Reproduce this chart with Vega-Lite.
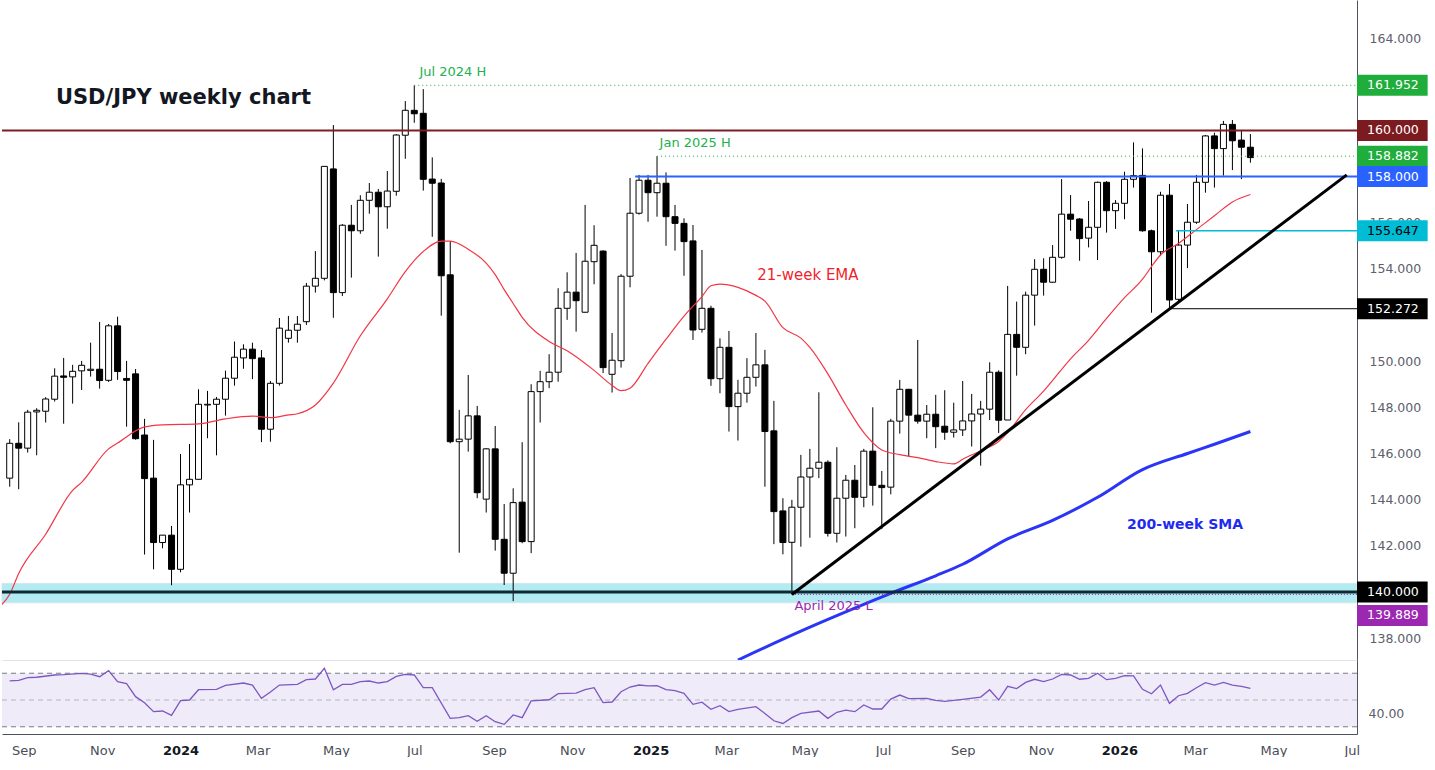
{
  "$schema": "https://vega.github.io/schema/vega-lite/v6.json",
  "padding": 0,
  "spacing": 0,
  "background": "white",
  "config": {"view": {"stroke": null}, "font": "DejaVu Sans", "concat": {"spacing": 0}},
  "datasets": {
    "candles": [
      {"d":"2023-08-21","o":144.93,"h":146.62,"l":144.56,"c":146.44},
      {"d":"2023-08-28","o":146.44,"h":147.35,"l":144.45,"c":146.23},
      {"d":"2023-09-04","o":146.23,"h":147.89,"l":146.04,"c":147.79},
      {"d":"2023-09-11","o":147.80,"h":147.96,"l":145.92,"c":147.87},
      {"d":"2023-09-18","o":147.83,"h":148.44,"l":147.34,"c":148.36},
      {"d":"2023-09-25","o":148.35,"h":149.69,"l":148.25,"c":149.35},
      {"d":"2023-10-02","o":149.36,"h":150.14,"l":147.29,"c":149.30},
      {"d":"2023-10-09","o":149.32,"h":149.84,"l":148.16,"c":149.56},
      {"d":"2023-10-16","o":149.58,"h":150.01,"l":148.75,"c":149.82},
      {"d":"2023-10-23","o":149.60,"h":150.80,"l":149.33,"c":149.65},
      {"d":"2023-10-30","o":149.65,"h":151.70,"l":148.81,"c":149.16},
      {"d":"2023-11-06","o":149.17,"h":151.61,"l":149.10,"c":151.53},
      {"d":"2023-11-13","o":151.53,"h":151.93,"l":149.19,"c":149.55},
      {"d":"2023-11-20","o":149.25,"h":150.01,"l":147.16,"c":149.17},
      {"d":"2023-11-27","o":149.45,"h":149.66,"l":146.60,"c":146.64},
      {"d":"2023-12-04","o":146.80,"h":147.50,"l":141.62,"c":144.91},
      {"d":"2023-12-11","o":144.93,"h":146.59,"l":140.98,"c":142.14},
      {"d":"2023-12-18","o":142.14,"h":142.46,"l":141.89,"c":142.46},
      {"d":"2023-12-25","o":142.46,"h":142.86,"l":140.29,"c":140.98},
      {"d":"2024-01-01","o":140.98,"h":145.98,"l":140.85,"c":144.64},
      {"d":"2024-01-08","o":144.64,"h":146.41,"l":143.44,"c":144.88},
      {"d":"2024-01-15","o":144.88,"h":148.78,"l":144.88,"c":148.13},
      {"d":"2024-01-22","o":148.10,"h":148.71,"l":146.66,"c":148.13},
      {"d":"2024-01-29","o":148.13,"h":148.45,"l":145.92,"c":148.35},
      {"d":"2024-02-05","o":148.35,"h":149.59,"l":147.64,"c":149.26},
      {"d":"2024-02-12","o":149.26,"h":150.85,"l":148.94,"c":150.17},
      {"d":"2024-02-19","o":150.14,"h":150.73,"l":149.67,"c":150.52},
      {"d":"2024-02-26","o":150.52,"h":150.80,"l":149.22,"c":150.11},
      {"d":"2024-03-04","o":150.14,"h":150.48,"l":146.49,"c":147.05},
      {"d":"2024-03-11","o":147.05,"h":149.14,"l":146.51,"c":149.04},
      {"d":"2024-03-18","o":149.04,"h":151.87,"l":148.94,"c":151.43},
      {"d":"2024-03-25","o":150.99,"h":151.96,"l":150.80,"c":151.34},
      {"d":"2024-04-01","o":151.34,"h":151.96,"l":150.80,"c":151.60},
      {"d":"2024-04-08","o":151.71,"h":153.39,"l":151.57,"c":153.25},
      {"d":"2024-04-15","o":153.25,"h":154.77,"l":152.97,"c":153.59},
      {"d":"2024-04-22","o":153.59,"h":158.44,"l":153.50,"c":158.44},
      {"d":"2024-04-29","o":158.33,"h":160.23,"l":151.88,"c":152.97},
      {"d":"2024-05-06","o":152.97,"h":155.94,"l":152.82,"c":155.89},
      {"d":"2024-05-13","o":155.89,"h":156.77,"l":153.62,"c":155.65},
      {"d":"2024-05-20","o":155.65,"h":157.19,"l":155.52,"c":156.97},
      {"d":"2024-05-27","o":156.97,"h":157.72,"l":156.39,"c":157.32},
      {"d":"2024-06-03","o":157.32,"h":157.46,"l":154.53,"c":156.69},
      {"d":"2024-06-10","o":156.69,"h":158.24,"l":155.74,"c":157.37},
      {"d":"2024-06-17","o":157.36,"h":159.84,"l":157.17,"c":159.80},
      {"d":"2024-06-24","o":159.79,"h":161.27,"l":158.77,"c":160.87},
      {"d":"2024-07-01","o":160.87,"h":161.952,"l":160.33,"c":160.72},
      {"d":"2024-07-08","o":160.74,"h":161.79,"l":157.39,"c":157.88},
      {"d":"2024-07-15","o":157.89,"h":158.83,"l":155.39,"c":157.71},
      {"d":"2024-07-22","o":157.72,"h":157.90,"l":151.97,"c":153.70},
      {"d":"2024-07-29","o":153.74,"h":155.20,"l":146.44,"c":146.51},
      {"d":"2024-08-05","o":146.51,"h":147.89,"l":141.70,"c":146.62},
      {"d":"2024-08-12","o":146.62,"h":149.40,"l":146.08,"c":147.63},
      {"d":"2024-08-19","o":147.63,"h":148.06,"l":144.06,"c":144.30},
      {"d":"2024-08-26","o":144.02,"h":146.23,"l":143.44,"c":146.20},
      {"d":"2024-09-02","o":146.20,"h":147.19,"l":141.79,"c":142.28},
      {"d":"2024-09-09","o":142.28,"h":143.81,"l":140.30,"c":140.81},
      {"d":"2024-09-16","o":140.81,"h":144.49,"l":139.60,"c":143.87},
      {"d":"2024-09-23","o":143.89,"h":146.49,"l":142.11,"c":142.18},
      {"d":"2024-09-30","o":142.18,"h":149.00,"l":141.68,"c":148.68},
      {"d":"2024-10-07","o":148.68,"h":149.58,"l":147.34,"c":149.11},
      {"d":"2024-10-14","o":149.11,"h":150.30,"l":148.83,"c":149.52},
      {"d":"2024-10-21","o":149.52,"h":153.16,"l":149.11,"c":152.29},
      {"d":"2024-10-28","o":152.29,"h":153.85,"l":151.79,"c":152.99},
      {"d":"2024-11-04","o":152.99,"h":154.69,"l":151.28,"c":152.62},
      {"d":"2024-11-11","o":152.12,"h":156.77,"l":152.10,"c":154.33},
      {"d":"2024-11-18","o":154.31,"h":155.89,"l":153.33,"c":155.02},
      {"d":"2024-11-25","o":154.77,"h":154.80,"l":149.48,"c":149.72},
      {"d":"2024-12-02","o":149.43,"h":151.22,"l":148.64,"c":150.04},
      {"d":"2024-12-09","o":150.02,"h":153.77,"l":149.72,"c":153.68},
      {"d":"2024-12-16","o":153.68,"h":157.94,"l":153.20,"c":156.41},
      {"d":"2024-12-23","o":156.41,"h":158.07,"l":156.35,"c":157.84},
      {"d":"2024-12-30","o":157.84,"h":158.07,"l":156.04,"c":157.30},
      {"d":"2025-01-06","o":157.30,"h":158.882,"l":156.26,"c":157.71},
      {"d":"2025-01-13","o":157.71,"h":158.18,"l":155.00,"c":156.26},
      {"d":"2025-01-20","o":156.26,"h":156.77,"l":154.79,"c":155.97},
      {"d":"2025-01-27","o":155.97,"h":156.19,"l":153.70,"c":155.18},
      {"d":"2025-02-03","o":155.21,"h":155.90,"l":150.92,"c":151.35},
      {"d":"2025-02-10","o":151.38,"h":154.82,"l":151.24,"c":152.29},
      {"d":"2025-02-17","o":152.29,"h":152.40,"l":148.93,"c":149.24},
      {"d":"2025-02-24","o":149.24,"h":150.99,"l":148.61,"c":150.60},
      {"d":"2025-03-03","o":150.60,"h":151.31,"l":146.95,"c":148.03},
      {"d":"2025-03-10","o":148.03,"h":149.19,"l":146.56,"c":148.61},
      {"d":"2025-03-17","o":148.61,"h":150.13,"l":148.20,"c":149.30},
      {"d":"2025-03-24","o":149.30,"h":151.22,"l":148.90,"c":149.84},
      {"d":"2025-03-31","o":149.84,"h":150.49,"l":144.56,"c":146.95},
      {"d":"2025-04-07","o":146.98,"h":148.28,"l":142.07,"c":143.48},
      {"d":"2025-04-14","o":143.51,"h":144.06,"l":141.63,"c":142.14},
      {"d":"2025-04-21","o":142.15,"h":143.99,"l":139.889,"c":143.67},
      {"d":"2025-04-28","o":143.67,"h":145.94,"l":141.96,"c":144.98},
      {"d":"2025-05-05","o":144.98,"h":146.20,"l":142.35,"c":145.36},
      {"d":"2025-05-12","o":145.36,"h":148.65,"l":144.93,"c":145.62},
      {"d":"2025-05-19","o":145.62,"h":145.70,"l":142.40,"c":142.54},
      {"d":"2025-05-26","o":142.54,"h":146.27,"l":142.14,"c":144.06},
      {"d":"2025-06-02","o":144.06,"h":145.07,"l":142.40,"c":144.84},
      {"d":"2025-06-09","o":144.84,"h":145.50,"l":142.76,"c":144.10},
      {"d":"2025-06-16","o":144.10,"h":146.20,"l":143.67,"c":146.10},
      {"d":"2025-06-23","o":146.10,"h":148.00,"l":143.74,"c":144.62},
      {"d":"2025-06-30","o":144.62,"h":145.24,"l":142.72,"c":144.52},
      {"d":"2025-07-07","o":144.54,"h":147.50,"l":144.23,"c":147.40},
      {"d":"2025-07-14","o":147.40,"h":149.19,"l":146.86,"c":148.78},
      {"d":"2025-07-21","o":148.78,"h":148.80,"l":145.86,"c":147.66},
      {"d":"2025-07-28","o":147.66,"h":150.92,"l":147.29,"c":147.40},
      {"d":"2025-08-04","o":147.40,"h":148.10,"l":146.66,"c":147.70},
      {"d":"2025-08-11","o":147.70,"h":148.54,"l":146.23,"c":147.16},
      {"d":"2025-08-18","o":147.18,"h":148.74,"l":146.59,"c":146.92},
      {"d":"2025-08-25","o":146.92,"h":148.20,"l":146.69,"c":147.02},
      {"d":"2025-09-01","o":147.02,"h":149.14,"l":146.76,"c":147.41},
      {"d":"2025-09-08","o":147.41,"h":148.58,"l":146.30,"c":147.71},
      {"d":"2025-09-15","o":147.71,"h":148.28,"l":145.47,"c":147.92},
      {"d":"2025-09-22","o":147.92,"h":149.95,"l":147.45,"c":149.52},
      {"d":"2025-09-29","o":149.52,"h":149.60,"l":146.89,"c":147.44},
      {"d":"2025-10-06","o":147.45,"h":153.26,"l":147.45,"c":151.16},
      {"d":"2025-10-13","o":151.16,"h":152.58,"l":149.37,"c":150.60},
      {"d":"2025-10-20","o":150.60,"h":153.01,"l":150.30,"c":152.86},
      {"d":"2025-10-27","o":152.86,"h":154.42,"l":151.54,"c":153.98},
      {"d":"2025-11-03","o":153.98,"h":154.46,"l":152.84,"c":153.42},
      {"d":"2025-11-10","o":153.42,"h":155.03,"l":153.40,"c":154.50},
      {"d":"2025-11-17","o":154.50,"h":157.89,"l":154.44,"c":156.37},
      {"d":"2025-11-24","o":156.37,"h":157.20,"l":155.65,"c":156.15},
      {"d":"2025-12-01","o":156.16,"h":156.20,"l":154.35,"c":155.31},
      {"d":"2025-12-08","o":155.33,"h":156.94,"l":154.93,"c":155.80},
      {"d":"2025-12-15","o":155.80,"h":157.78,"l":154.38,"c":157.75},
      {"d":"2025-12-22","o":157.75,"h":157.80,"l":155.57,"c":156.52},
      {"d":"2025-12-29","o":156.52,"h":156.98,"l":155.73,"c":156.84},
      {"d":"2026-01-05","o":156.84,"h":158.21,"l":156.15,"c":157.88},
      {"d":"2026-01-12","o":157.88,"h":159.48,"l":157.52,"c":158.04},
      {"d":"2026-01-19","o":158.05,"h":159.22,"l":155.61,"c":155.65},
      {"d":"2026-01-26","o":155.65,"h":155.70,"l":152.10,"c":154.74},
      {"d":"2026-02-02","o":154.74,"h":157.34,"l":154.57,"c":157.19},
      {"d":"2026-02-09","o":157.19,"h":157.68,"l":152.272,"c":152.65},
      {"d":"2026-02-16","o":152.68,"h":155.647,"l":152.60,"c":155.03},
      {"d":"2026-02-23","o":155.03,"h":156.81,"l":154.03,"c":156.02},
      {"d":"2026-03-02","o":156.02,"h":158.07,"l":155.95,"c":157.75},
      {"d":"2026-03-09","o":157.75,"h":159.80,"l":157.30,"c":159.76},
      {"d":"2026-03-16","o":159.76,"h":159.90,"l":157.52,"c":159.21},
      {"d":"2026-03-23","o":159.21,"h":160.41,"l":158.04,"c":160.26},
      {"d":"2026-03-30","o":160.26,"h":160.45,"l":158.28,"c":159.55},
      {"d":"2026-04-06","o":159.58,"h":160.02,"l":157.89,"c":159.27},
      {"d":"2026-04-13","o":159.27,"h":159.84,"l":158.60,"c":158.82}
    ],
    "ema": [
      {"d":"2023-08-14","v":139.4},{"d":"2023-08-21","v":139.9},{"d":"2023-08-28","v":140.8},
      {"d":"2023-09-18","v":142.5},{"d":"2023-10-09","v":144.4},{"d":"2023-10-16","v":144.75},
      {"d":"2023-11-06","v":146.2},{"d":"2023-11-13","v":146.45},{"d":"2023-12-04","v":147.15},
      {"d":"2023-12-18","v":147.24},{"d":"2024-01-15","v":147.28},{"d":"2024-02-05","v":147.5},
      {"d":"2024-02-26","v":147.62},{"d":"2024-03-11","v":147.55},{"d":"2024-03-25","v":147.67},
      {"d":"2024-04-01","v":147.72},{"d":"2024-04-15","v":148.1},{"d":"2024-04-29","v":149.05},
      {"d":"2024-05-20","v":151.1},{"d":"2024-06-10","v":152.7},{"d":"2024-06-24","v":153.88},
      {"d":"2024-07-08","v":154.75},{"d":"2024-07-22","v":155.2},{"d":"2024-07-29","v":155.2},
      {"d":"2024-08-12","v":154.85},{"d":"2024-08-26","v":154.25},{"d":"2024-09-02","v":153.75},
      {"d":"2024-09-09","v":153.1},{"d":"2024-09-16","v":152.5},{"d":"2024-09-23","v":151.9},
      {"d":"2024-10-14","v":150.85},{"d":"2024-10-28","v":150.45},{"d":"2024-11-18","v":149.6},
      {"d":"2024-12-02","v":148.95},{"d":"2024-12-09","v":148.72},{"d":"2024-12-16","v":148.83},
      {"d":"2024-12-30","v":149.9},{"d":"2025-01-13","v":150.95},{"d":"2025-01-27","v":151.95},
      {"d":"2025-02-10","v":152.8},{"d":"2025-02-17","v":153.27},{"d":"2025-02-24","v":153.34},
      {"d":"2025-03-10","v":153.2},{"d":"2025-03-24","v":152.85},{"d":"2025-03-31","v":152.6},
      {"d":"2025-04-14","v":151.45},{"d":"2025-04-28","v":151.0},{"d":"2025-05-05","v":150.6},
      {"d":"2025-05-19","v":149.45},{"d":"2025-06-02","v":148.1},{"d":"2025-06-16","v":146.9},
      {"d":"2025-06-30","v":146.15},{"d":"2025-07-14","v":145.95},{"d":"2025-07-28","v":145.82},
      {"d":"2025-08-11","v":145.65},{"d":"2025-08-25","v":145.55},{"d":"2025-09-01","v":145.75},
      {"d":"2025-09-15","v":146.12},{"d":"2025-09-29","v":146.52},{"d":"2025-10-06","v":146.9},
      {"d":"2025-10-20","v":147.9},{"d":"2025-11-03","v":148.7},{"d":"2025-11-24","v":150.1},
      {"d":"2025-12-08","v":150.9},{"d":"2025-12-22","v":151.85},{"d":"2026-01-05","v":152.75},
      {"d":"2026-01-19","v":153.55},{"d":"2026-01-26","v":154.1},{"d":"2026-02-02","v":154.6},
      {"d":"2026-02-16","v":155.1},{"d":"2026-03-02","v":155.7},{"d":"2026-03-16","v":156.3},
      {"d":"2026-03-30","v":156.9},{"d":"2026-04-13","v":157.22}
    ],
    "sma": [
      {"d":"2025-03-10","v":137.05},{"d":"2025-04-28","v":138.3},{"d":"2025-06-23","v":139.62},
      {"d":"2025-07-07","v":139.94},{"d":"2025-08-11","v":140.7},{"d":"2025-09-01","v":141.2},
      {"d":"2025-10-06","v":142.3},{"d":"2025-11-10","v":143.1},{"d":"2025-12-15","v":144.1},
      {"d":"2026-01-19","v":145.3},{"d":"2026-02-23","v":146.0},{"d":"2026-03-16","v":146.4},
      {"d":"2026-04-13","v":146.95}
    ],
    "rsi": [
      {"d":"2023-08-21","v":64.3},{"d":"2023-08-28","v":64.7},{"d":"2023-09-04","v":66.7},
      {"d":"2023-09-11","v":67.0},{"d":"2023-09-25","v":68.7},{"d":"2023-10-02","v":68.9},
      {"d":"2023-10-16","v":69.9},{"d":"2023-10-23","v":69.4},{"d":"2023-10-30","v":67.4},
      {"d":"2023-11-06","v":71.9},{"d":"2023-11-13","v":63.7},{"d":"2023-11-20","v":62.2},
      {"d":"2023-11-27","v":52.5},{"d":"2023-12-04","v":48.0},{"d":"2023-12-11","v":41.3},
      {"d":"2023-12-18","v":41.8},{"d":"2023-12-25","v":38.5},{"d":"2024-01-01","v":49.5},
      {"d":"2024-01-08","v":50.0},{"d":"2024-01-15","v":57.7},{"d":"2024-01-29","v":58.0},
      {"d":"2024-02-05","v":61.0},{"d":"2024-02-19","v":62.7},{"d":"2024-02-26","v":61.2},
      {"d":"2024-03-04","v":51.3},{"d":"2024-03-11","v":56.0},{"d":"2024-03-18","v":61.2},
      {"d":"2024-04-01","v":61.7},{"d":"2024-04-08","v":65.2},{"d":"2024-04-15","v":65.7},
      {"d":"2024-04-22","v":73.7},{"d":"2024-04-29","v":57.7},{"d":"2024-05-06","v":61.7},
      {"d":"2024-05-13","v":61.7},{"d":"2024-05-20","v":63.7},{"d":"2024-05-27","v":64.2},
      {"d":"2024-06-03","v":62.7},{"d":"2024-06-10","v":63.7},{"d":"2024-06-17","v":67.7},
      {"d":"2024-06-24","v":69.2},{"d":"2024-07-01","v":68.7},{"d":"2024-07-08","v":59.2},
      {"d":"2024-07-15","v":59.2},{"d":"2024-07-29","v":36.3},{"d":"2024-08-05","v":36.8},
      {"d":"2024-08-12","v":38.3},{"d":"2024-08-19","v":34.1},{"d":"2024-08-26","v":38.3},
      {"d":"2024-09-02","v":33.8},{"d":"2024-09-09","v":31.8},{"d":"2024-09-16","v":38.8},
      {"d":"2024-09-23","v":36.8},{"d":"2024-09-30","v":49.3},{"d":"2024-10-14","v":50.2},
      {"d":"2024-10-21","v":54.7},{"d":"2024-11-04","v":55.2},{"d":"2024-11-11","v":57.7},
      {"d":"2024-11-18","v":59.2},{"d":"2024-11-25","v":48.0},{"d":"2024-12-02","v":48.5},
      {"d":"2024-12-09","v":56.2},{"d":"2024-12-16","v":59.7},{"d":"2024-12-23","v":61.2},
      {"d":"2024-12-30","v":60.5},{"d":"2025-01-06","v":60.7},{"d":"2025-01-13","v":57.7},
      {"d":"2025-01-20","v":57.0},{"d":"2025-01-27","v":55.0},{"d":"2025-02-03","v":46.8},
      {"d":"2025-02-10","v":48.4},{"d":"2025-02-17","v":43.0},{"d":"2025-02-24","v":45.7},
      {"d":"2025-03-03","v":41.3},{"d":"2025-03-10","v":43.0},{"d":"2025-03-24","v":45.0},
      {"d":"2025-03-31","v":40.0},{"d":"2025-04-07","v":34.5},{"d":"2025-04-14","v":32.5},
      {"d":"2025-04-21","v":36.8},{"d":"2025-04-28","v":40.0},{"d":"2025-05-12","v":41.8},
      {"d":"2025-05-19","v":36.3},{"d":"2025-05-26","v":40.8},{"d":"2025-06-02","v":42.5},
      {"d":"2025-06-09","v":41.3},{"d":"2025-06-16","v":46.3},{"d":"2025-06-23","v":43.3},
      {"d":"2025-06-30","v":43.3},{"d":"2025-07-07","v":50.7},{"d":"2025-07-14","v":53.7},
      {"d":"2025-07-21","v":51.0},{"d":"2025-08-04","v":51.2},{"d":"2025-08-11","v":49.7},
      {"d":"2025-08-18","v":49.0},{"d":"2025-09-01","v":50.5},{"d":"2025-09-15","v":52.2},
      {"d":"2025-09-22","v":57.7},{"d":"2025-09-29","v":50.0},{"d":"2025-10-06","v":60.2},
      {"d":"2025-10-13","v":58.5},{"d":"2025-10-20","v":63.2},{"d":"2025-10-27","v":65.5},
      {"d":"2025-11-03","v":63.7},{"d":"2025-11-10","v":65.7},{"d":"2025-11-17","v":69.2},
      {"d":"2025-11-24","v":68.7},{"d":"2025-12-01","v":65.5},{"d":"2025-12-08","v":66.2},
      {"d":"2025-12-15","v":70.0},{"d":"2025-12-22","v":65.2},{"d":"2025-12-29","v":66.2},
      {"d":"2026-01-05","v":68.2},{"d":"2026-01-12","v":68.0},{"d":"2026-01-19","v":58.0},
      {"d":"2026-01-26","v":54.7},{"d":"2026-02-02","v":61.2},{"d":"2026-02-09","v":47.5},
      {"d":"2026-02-16","v":53.2},{"d":"2026-02-23","v":55.0},{"d":"2026-03-02","v":59.2},
      {"d":"2026-03-09","v":63.0},{"d":"2026-03-16","v":61.2},{"d":"2026-03-23","v":63.2},
      {"d":"2026-03-30","v":61.2},{"d":"2026-04-06","v":60.2},{"d":"2026-04-13","v":58.7}
    ]
  },
  "resolve": {"scale": {"x": "independent", "y": "independent"}},
  "vconcat": [
    {
      "width": 1355,
      "height": 660,
      "layer": [
        {
          "data": {"values": [{"top": 140.37, "bot": 139.53}]},
          "mark": {"type": "rect", "fill": "#b2ebf2", "stroke": "#d6e4ea", "strokeWidth": 1},
          "encoding": {
            "y": {"field": "top", "type": "quantitative", "title": null,
                  "scale": {"domain": [137.05, 165.65], "nice": false, "zero": false, "padding": 0},
                  "axis": {"orient": "right", "title": null, "values": [138,142,144,146,148,150,154,156,164],
                           "format": ".3f", "ticks": false, "grid": false, "labelColor": "#5d606b", "labelFontSize": 12.5,
                           "labelPadding": 12, "domainColor": "#50535e"}},
            "y2": {"field": "bot"}
          }
        },
        {
          "data": {"name": "candles"},
          "mark": {"type": "rule", "color": "#000000", "strokeWidth": 1},
          "encoding": {
            "x": {"field": "d", "type": "temporal", "title": null,
                  "scale": {"type": "utc", "padding": 0, "domain": [{"year": 2023, "month": 8, "date": 15, "utc": true}, {"year": 2026, "month": 7, "date": 5, "utc": true}]},
                  "axis": {"labels": false, "ticks": false, "grid": false, "title": null, "domainColor": "#e0e3eb"}},
            "y": {"field": "l", "type": "quantitative", "title": null},
            "y2": {"field": "h"}
          }
        },
        {
          "data": {"name": "candles"},
          "mark": {"type": "bar", "width": 6, "stroke": "#000000", "strokeWidth": 1},
          "encoding": {
            "x": {"field": "d", "type": "temporal", "title": null},
            "y": {"field": "o", "type": "quantitative", "title": null},
            "y2": {"field": "c"},
            "fill": {"condition": {"test": "datum.c >= datum.o", "value": "#ffffff"}, "value": "#000000"}
          }
        },
        {
          "data": {"name": "ema"},
          "mark": {"type": "line", "color": "#f23645", "strokeWidth": 1.2, "clip": true, "interpolate": "monotone"},
          "encoding": {
            "x": {"field": "d", "type": "temporal", "title": null},
            "y": {"field": "v", "type": "quantitative", "title": null}
          }
        },
        {
          "data": {"name": "sma"},
          "mark": {"type": "line", "color": "#2b35f5", "strokeWidth": 3, "clip": true, "interpolate": "monotone"},
          "encoding": {
            "x": {"field": "d", "type": "temporal", "title": null},
            "y": {"field": "v", "type": "quantitative", "title": null}
          }
        },
        {
          "data": {"values": [{"p": 160}]},
          "mark": {"type": "rule", "color": "#7b1f24", "strokeWidth": 2},
          "encoding": {"y": {"field": "p", "type": "quantitative", "title": null}}
        },
        {
          "data": {"values": [{"p": 140}]},
          "mark": {"type": "rule", "color": "#0b2a33", "strokeWidth": 3},
          "encoding": {"y": {"field": "p", "type": "quantitative", "title": null}}
        },
        {
          "data": {"values": [{"d0": "2024-07-01", "d1": "2026-07-05", "p": 161.952}, {"d0": "2025-01-06", "d1": "2026-07-05", "p": 158.882}]},
          "mark": {"type": "rule", "color": "#22b14c", "strokeWidth": 1, "strokeDash": [1, 3]},
          "encoding": {
            "x": {"field": "d0", "type": "temporal", "title": null},
            "x2": {"field": "d1"},
            "y": {"field": "p", "type": "quantitative", "title": null}
          }
        },
        {
          "data": {"values": [{"d0": "2024-12-20", "d1": "2026-07-05", "p": 158.0}]},
          "mark": {"type": "rule", "color": "#2962ff", "strokeWidth": 2},
          "encoding": {
            "x": {"field": "d0", "type": "temporal", "title": null},
            "x2": {"field": "d1"},
            "y": {"field": "p", "type": "quantitative", "title": null}
          }
        },
        {
          "data": {"values": [{"d0": "2026-02-14", "d1": "2026-07-05", "p": 155.647}]},
          "mark": {"type": "rule", "color": "#00bcd4", "strokeWidth": 1.5},
          "encoding": {
            "x": {"field": "d0", "type": "temporal", "title": null},
            "x2": {"field": "d1"},
            "y": {"field": "p", "type": "quantitative", "title": null}
          }
        },
        {
          "data": {"values": [{"d0": "2026-02-08", "d1": "2026-07-05", "p": 152.272}]},
          "mark": {"type": "rule", "color": "#000000", "strokeWidth": 1},
          "encoding": {
            "x": {"field": "d0", "type": "temporal", "title": null},
            "x2": {"field": "d1"},
            "y": {"field": "p", "type": "quantitative", "title": null}
          }
        },
        {
          "data": {"values": [{"d0": "2025-04-21", "d1": "2026-07-05", "p": 139.889}]},
          "mark": {"type": "rule", "color": "#9c27b0", "strokeWidth": 1, "strokeDash": [1, 2]},
          "encoding": {
            "x": {"field": "d0", "type": "temporal", "title": null},
            "x2": {"field": "d1"},
            "y": {"field": "p", "type": "quantitative", "title": null}
          }
        },
        {
          "data": {"values": [{"d": "2025-04-21", "p": 139.889}, {"d": "2026-06-27", "p": 158.07}]},
          "mark": {"type": "line", "color": "#000000", "strokeWidth": 3},
          "encoding": {
            "x": {"field": "d", "type": "temporal", "title": null},
            "y": {"field": "p", "type": "quantitative", "title": null}
          }
        },
        {
          "data": {"values": [{"d": "2023-09-26", "p": 161.4, "t": "USD/JPY weekly chart"}]},
          "mark": {"type": "text", "align": "left", "baseline": "middle", "fontSize": 21, "fontWeight": "bold", "color": "#131722"},
          "encoding": {
            "x": {"field": "d", "type": "temporal", "title": null},
            "y": {"field": "p", "type": "quantitative", "title": null},
            "text": {"field": "t"}
          }
        },
        {
          "data": {"values": [{"d": "2024-07-05", "p": 162.53, "t": "Jul 2024 H"}, {"d": "2025-01-08", "p": 159.45, "t": "Jan 2025 H"}]},
          "mark": {"type": "text", "align": "left", "baseline": "middle", "fontSize": 13, "color": "#22b14c"},
          "encoding": {
            "x": {"field": "d", "type": "temporal", "title": null},
            "y": {"field": "p", "type": "quantitative", "title": null},
            "text": {"field": "t"}
          }
        },
        {
          "data": {"values": [{"d": "2025-04-23", "p": 139.39, "t": "April 2025 L"}]},
          "mark": {"type": "text", "align": "left", "baseline": "middle", "fontSize": 13, "color": "#9c27b0"},
          "encoding": {
            "x": {"field": "d", "type": "temporal", "title": null},
            "y": {"field": "p", "type": "quantitative", "title": null},
            "text": {"field": "t"}
          }
        },
        {
          "data": {"values": [{"d": "2025-03-25", "p": 153.73, "t": "21-week EMA"}]},
          "mark": {"type": "text", "align": "left", "baseline": "middle", "fontSize": 15, "color": "#f21f2e"},
          "encoding": {
            "x": {"field": "d", "type": "temporal", "title": null},
            "y": {"field": "p", "type": "quantitative", "title": null},
            "text": {"field": "t"}
          }
        },
        {
          "data": {"values": [{"d": "2026-01-07", "p": 142.9, "t": "200-week SMA"}]},
          "mark": {"type": "text", "align": "left", "baseline": "middle", "fontSize": 14, "fontWeight": "bold", "color": "#1f2bf0"},
          "encoding": {
            "x": {"field": "d", "type": "temporal", "title": null},
            "y": {"field": "p", "type": "quantitative", "title": null},
            "text": {"field": "t"}
          }
        },
        {
          "data": {"values": [{"p": 161.952, "t": "161.952"}, {"p": 160.0, "t": "160.000"}, {"p": 158.882, "t": "158.882"}, {"p": 158.0, "t": "158.000"}, {"p": 155.647, "t": "155.647"}, {"p": 152.272, "t": "152.272"}, {"p": 140.0, "t": "140.000"}]},
          "mark": {"type": "bar", "height": 21, "clip": false},
          "encoding": {
            "x": {"datum": {"year": 2026, "month": 7, "date": 5, "utc": true}, "type": "temporal"},
            "x2": {"datum": {"year": 2026, "month": 8, "date": 29, "utc": true}},
            "y": {"field": "p", "type": "quantitative", "title": null},
            "color": {"field": "t", "type": "nominal", "legend": null,
                      "scale": {"domain": ["161.952", "160.000", "158.882", "158.000", "155.647", "152.272", "140.000", "139.889"],
                                "range": ["#1fad3b", "#7b1a1f", "#1fad3b", "#2962ff", "#00bcd4", "#000000", "#000000", "#9c27b0"]}}
          }
        },
        {
          "data": {"values": [{"p": 139.889, "t": "139.889"}]},
          "mark": {"type": "bar", "height": 21, "clip": false, "yOffset": 21},
          "encoding": {
            "x": {"datum": {"year": 2026, "month": 7, "date": 5, "utc": true}, "type": "temporal"},
            "x2": {"datum": {"year": 2026, "month": 8, "date": 29, "utc": true}},
            "y": {"field": "p", "type": "quantitative", "title": null},
            "color": {"field": "t", "type": "nominal", "legend": null}
          }
        },
        {
          "data": {"values": [{"p": 161.952, "t": "161.952"}, {"p": 160.0, "t": "160.000"}, {"p": 158.882, "t": "158.882"}, {"p": 158.0, "t": "158.000"}, {"p": 155.647, "t": "155.647"}, {"p": 152.272, "t": "152.272"}, {"p": 140.0, "t": "140.000"}]},
          "mark": {"type": "text", "align": "center", "baseline": "middle", "fontSize": 12.5, "clip": false},
          "encoding": {
            "x": {"datum": {"year": 2026, "month": 8, "date": 2, "utc": true}, "type": "temporal"},
            "y": {"field": "p", "type": "quantitative", "title": null},
            "text": {"field": "t"},
            "fill": {"condition": {"test": "datum.t == '155.647'", "value": "#000000"}, "value": "#ffffff"}
          }
        },
        {
          "data": {"values": [{"p": 139.889, "t": "139.889"}]},
          "mark": {"type": "text", "align": "center", "baseline": "middle", "fontSize": 12.5, "clip": false, "yOffset": 21, "fill": "#ffffff"},
          "encoding": {
            "x": {"datum": {"year": 2026, "month": 8, "date": 2, "utc": true}, "type": "temporal"},
            "y": {"field": "p", "type": "quantitative", "title": null},
            "text": {"field": "t"}
          }
        }
      ]
    },
    {
      "width": 1355,
      "height": 74,
      "layer": [
        {
          "data": {"values": [{"hi": 70, "lo": 30}]},
          "mark": {"type": "rect", "fill": "#efebf8"},
          "encoding": {
            "y": {"field": "hi", "type": "quantitative", "title": null,
                  "scale": {"domain": [24.6, 79.9], "nice": false, "zero": false, "padding": 0},
                  "axis": {"orient": "right", "title": null, "values": [40], "format": ".2f", "ticks": false, "grid": false,
                           "labelColor": "#5d606b", "labelFontSize": 12.5, "labelPadding": 11, "domainColor": "#50535e"}},
            "y2": {"field": "lo"}
          }
        },
        {
          "data": {"values": [{"v": 70}, {"v": 50}, {"v": 30}]},
          "mark": {"type": "rule", "strokeDash": [5, 4], "strokeWidth": 1},
          "encoding": {
            "y": {"field": "v", "type": "quantitative", "title": null},
            "color": {"condition": {"test": "datum.v == 50", "value": "#b2b5be"}, "value": "#787b86"}
          }
        },
        {
          "data": {"name": "rsi"},
          "mark": {"type": "line", "color": "#7e57c2", "strokeWidth": 1.3},
          "encoding": {
            "x": {"field": "d", "type": "temporal", "title": null,
                  "scale": {"type": "utc", "padding": 0, "domain": [{"year": 2023, "month": 8, "date": 15, "utc": true}, {"year": 2026, "month": 7, "date": 5, "utc": true}]},
                  "axis": {"title": null, "ticks": false, "grid": false, "domainColor": "#50535e", "labelFontSize": 13,
                           "labelPadding": 10, "labelFlush": false, "labelOverlap": false,
                           "tickCount": {"interval": "month", "step": 2},
                           "labelExpr": "utcmonth(datum.value) === 0 ? utcFormat(datum.value, '%Y') : utcFormat(datum.value, '%b')",
                           "labelColor": {"condition": {"test": "utcmonth(datum.value) === 0", "value": "#131722"}, "value": "#4a4d57"},
                           "labelFontWeight": {"condition": {"test": "utcmonth(datum.value) === 0", "value": "bold"}, "value": "normal"}}},
            "y": {"field": "v", "type": "quantitative", "title": null}
          }
        }
      ]
    }
  ]
}
